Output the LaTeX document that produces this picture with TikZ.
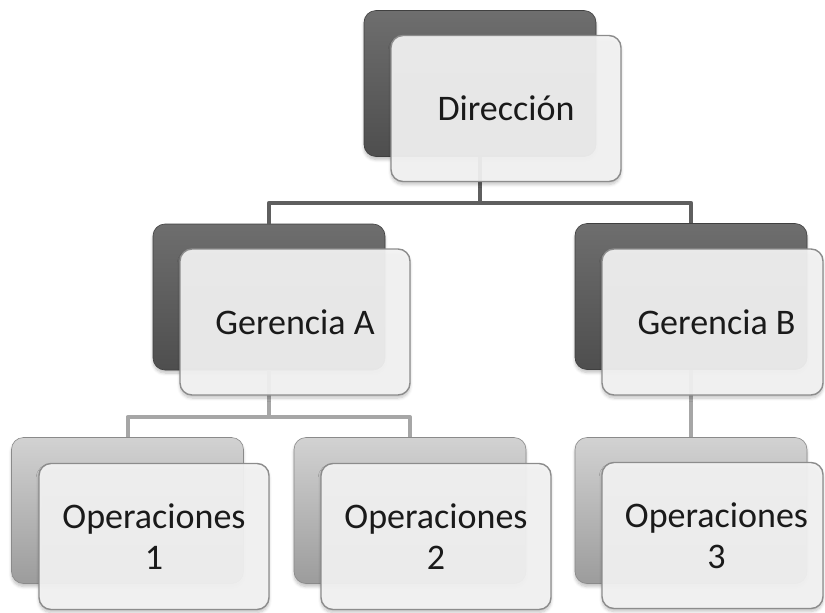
\documentclass[tikz,border=0pt]{standalone}
\usepackage{fontspec}
\setmainfont{Carlito}
\usetikzlibrary{shadows.blur}
\definecolor{darktop}{HTML}{6E6E6E}
\definecolor{darkbot}{HTML}{4E4E4E}
\definecolor{darkedge}{HTML}{404040}
\definecolor{lighttop}{HTML}{D2D2D2}
\definecolor{lightbot}{HTML}{9C9C9C}
\definecolor{lightedge}{HTML}{8A8A8A}
\definecolor{frontfill}{HTML}{F4F4F4}
\definecolor{frontedge}{HTML}{8C8C8C}
\definecolor{topline}{HTML}{5F5F5F}
\definecolor{opline}{HTML}{A6A6A6}
\definecolor{txt}{HTML}{1A1A1A}
\begin{document}
\begin{tikzpicture}[x=1pt,y=-1pt,
  boxshadow/.style={blur shadow={shadow xshift=0pt, shadow yshift=-3pt, shadow blur steps=6, shadow blur radius=3pt, shadow opacity=25}},
  backbox/.style={rounded corners=12pt, minimum width=232pt, minimum height=146pt, inner sep=0pt, line width=0.6pt, boxshadow},
  backdark/.style={backbox, draw=darkedge, top color=darktop, bottom color=darkbot},
  backlight/.style={backbox, draw=lightedge, top color=lighttop, bottom color=lightbot},
  frontbox/.style={rounded corners=12pt, minimum width=230pt, minimum height=146pt, inner sep=0pt, draw=frontedge, line width=1.4pt, fill=frontfill, fill opacity=0.93, text opacity=1, text=txt, align=center, font=\fontsize{36}{41}\selectfont, boxshadow},
  frontnarrow/.style={frontbox, minimum width=221pt},
  toplink/.style={draw=topline, line width=4.5pt},
  oplink/.style={draw=opline, line width=4pt}
]
\useasboundingbox (0,0) rectangle (825,613);
% junction points
\coordinate (j1) at (480,203);
\coordinate (j2) at (269,417);
% back boxes
\node[backdark] (dirB) at (480,83.5) {};
\node[backdark] (gaB) at (269,297) {};
\node[backdark] (gbB) at (691,296.5) {};
\node[backlight] (o1B) at (127.5,510.5) {};
\node[backlight] (o2B) at (410,510.5) {};
\node[backlight] (o3B) at (691,510.5) {};
% connectors
\draw[toplink] (dirB.south) -- (dirB.south |- j1);
\draw[toplink, line join=round] (gaB.north) |- (j1) -| (gbB.north);
\draw[oplink] (gaB.south) -- (gaB.south |- j2);
\draw[oplink, line join=round] (o1B.north) |- (j2) -| (o2B.north);
\draw[oplink] (gbB.south) -- (o3B.north);
% front boxes
\node[frontbox] (dir) at (506,108.5) {Dirección};
\node[frontbox] (ga) at (295,322) {Gerencia A};
\node[frontnarrow] (gb) at (712.5,322) {\hspace*{8pt}Gerencia B};
\node[frontbox] (o1) at (154,536.5) {Operaciones\\1};
\node[frontbox] (o2) at (436,536.5) {Operaciones\\2};
\node[frontnarrow] (o3) at (712.5,535.5) {\hspace*{8pt}Operaciones\\\hspace*{8pt}3};
\end{tikzpicture}
\end{document}
